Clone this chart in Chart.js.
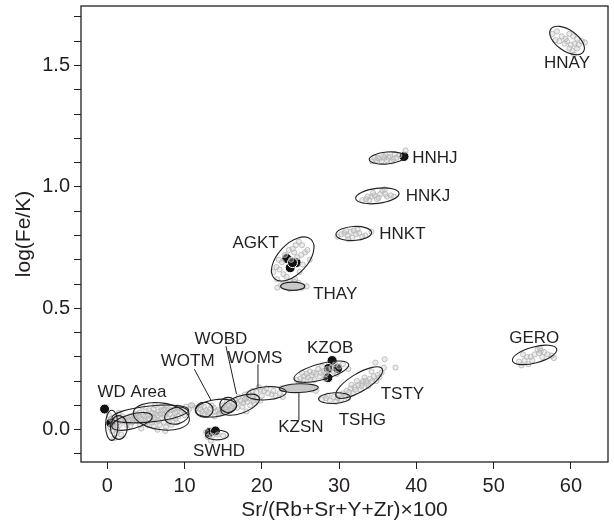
<!DOCTYPE html>
<html>
<head>
<meta charset="utf-8">
<script src="https://cdn.jsdelivr.net/npm/chart.js@4.4.1/dist/chart.umd.min.js"></script>
<style>
html, body { margin: 0; padding: 0; background: #fff; }
#wrap { width: 614px; height: 527px; }
</style>
</head>
<body>
<div id="wrap"><canvas id="c"></canvas></div>
<script>
// grey sample points per site: [Sr/(Rb+Sr+Y+Zr)x100, log(Fe/K)]
var hnay = [[57.6,1.63],[58.2,1.64],[58.8,1.62],[59.3,1.61],[59.8,1.63],[60.3,1.62],[60.8,1.61],[61.4,1.60],[61.8,1.595],[58.5,1.60],[59.5,1.60],[60.0,1.585],[60.5,1.59],[59.8,1.57],[60.2,1.56],[60.8,1.57],[59.2,1.59],[58.0,1.605],[61.0,1.585],[60.4,1.545]];
var hnhj = [[34.3,1.105],[34.8,1.11],[35.2,1.115],[35.5,1.105],[35.9,1.12],[36.2,1.11],[36.6,1.125],[37.0,1.115],[37.4,1.12],[37.8,1.13],[35.0,1.12],[36.0,1.13],[36.8,1.105],[37.2,1.135],[38.6,1.15],[34.6,1.12],[35.7,1.125],[36.4,1.12]];
var hnkj = [[33.0,0.945],[33.5,0.95],[33.9,0.945],[34.2,0.96],[34.6,0.965],[34.9,0.95],[35.3,0.97],[35.6,0.985],[35.9,0.99],[36.2,0.96],[36.7,0.965],[37.1,0.96],[34.4,0.975],[33.7,0.96],[35.1,0.955],[36.0,0.97]];
var hnkt = [[29.8,0.795],[30.3,0.805],[30.7,0.81],[31.1,0.80],[31.5,0.815],[31.9,0.82],[32.2,0.805],[32.6,0.81],[33.0,0.795],[33.4,0.80],[34.2,0.815],[31.7,0.79],[31.2,0.785],[32.4,0.825],[30.9,0.82]];
var agkt = [[21.5,0.65],[21.9,0.67],[22.3,0.66],[22.6,0.69],[22.2,0.70],[23.0,0.72],[23.5,0.74],[24.0,0.745],[24.4,0.76],[24.8,0.775],[25.2,0.76],[25.6,0.73],[25.9,0.74],[25.1,0.72],[24.6,0.71],[24.2,0.73],[23.8,0.70],[22.8,0.64],[23.2,0.63],[23.6,0.61],[24.3,0.62],[24.7,0.605],[25.3,0.68],[22.0,0.62],[26.2,0.70],[24.9,0.65]];
var thay = [[22.0,0.585],[22.5,0.595],[23.0,0.60],[24.4,0.60],[25.2,0.585],[25.8,0.59],[23.6,0.58],[24.2,0.61]];
var gero = [[53.3,0.28],[53.6,0.265],[54.0,0.285],[54.3,0.30],[54.8,0.30],[55.3,0.31],[55.7,0.33],[56.1,0.325],[56.5,0.32],[57.0,0.31],[57.5,0.305],[55.0,0.285],[54.5,0.27],[56.3,0.30],[55.9,0.315],[53.8,0.31],[57.8,0.295],[56.0,0.335]];
var kzob = [[24.5,0.205],[25.0,0.21],[25.5,0.22],[26.0,0.215],[26.5,0.225],[27.0,0.23],[27.5,0.22],[28.0,0.24],[28.5,0.25],[29.0,0.255],[29.5,0.27],[30.0,0.26],[30.5,0.27],[26.2,0.24],[25.2,0.235],[27.3,0.25],[26.8,0.205],[28.2,0.21],[29.7,0.23],[31.2,0.25],[24.8,0.19],[27.8,0.26],[25.8,0.23],[26.7,0.235],[27.6,0.235],[28.3,0.23],[25.4,0.205],[26.3,0.205],[29.3,0.24]];
var tsty = [[30.5,0.15],[31.0,0.16],[31.5,0.17],[32.0,0.175],[32.5,0.185],[33.0,0.19],[33.5,0.20],[34.0,0.21],[34.5,0.22],[35.0,0.225],[35.5,0.235],[31.8,0.15],[32.8,0.165],[33.8,0.18],[34.8,0.20],[30.8,0.14],[33.3,0.215],[34.2,0.24],[35.8,0.255],[34.7,0.276],[35.9,0.29],[37.3,0.256],[32.3,0.20],[31.3,0.155],[32.1,0.165],[32.9,0.18],[33.6,0.19],[34.3,0.20],[35.2,0.215],[33.1,0.20],[31.6,0.185]];
var tshg = [[27.8,0.125],[28.3,0.13],[28.8,0.12],[29.3,0.135],[29.8,0.13],[30.3,0.125],[30.8,0.14],[31.2,0.13],[28.5,0.14],[29.6,0.115],[30.0,0.145]];
var kzsn = [[22.5,0.17],[23.5,0.175],[26.5,0.165],[27.0,0.16]];
var woms = [[18.3,0.15],[18.8,0.16],[19.3,0.155],[19.8,0.165],[20.3,0.16],[20.8,0.15],[21.3,0.145],[21.8,0.14],[22.3,0.15],[19.0,0.14],[20.0,0.14],[20.6,0.17],[21.5,0.16],[22.7,0.135],[19.6,0.175],[18.0,0.13]];
var wobd = [[14.8,0.08],[15.3,0.09],[15.8,0.10],[16.3,0.105],[16.8,0.11],[17.3,0.12],[17.8,0.125],[18.3,0.13],[18.8,0.135],[19.3,0.13],[16.0,0.08],[16.8,0.09],[17.5,0.095],[18.5,0.10],[15.5,0.115],[17.0,0.135],[19.0,0.11],[14.5,0.065],[18.0,0.075],[19.8,0.12],[15.0,0.10],[17.8,0.145],[15.2,0.085],[16.1,0.095],[16.6,0.12],[17.6,0.11],[18.1,0.115],[18.9,0.12]];
var wotm = [[11.8,0.07],[12.3,0.075],[12.8,0.08],[13.3,0.085],[13.8,0.09],[14.3,0.08],[14.8,0.085],[12.5,0.095],[13.5,0.10],[14.5,0.065],[13.0,0.06],[12.0,0.085],[15.5,0.075],[16.0,0.09],[13.9,0.055],[11.5,0.09],[14.0,0.075],[13.1,0.072],[12.6,0.065],[14.9,0.07]];
var wdArea = [[0.2,0.06],[0.5,0.045],[0.8,0.03],[1.0,0.01],[0.6,-0.005],[1.3,0.0],[1.6,0.02],[1.9,0.035],[1.2,0.05],[2.2,0.045],[2.6,0.05],[3.0,0.055],[3.4,0.06],[3.8,0.065],[4.2,0.07],[4.6,0.06],[5.0,0.075],[5.4,0.08],[5.8,0.07],[6.2,0.065],[6.6,0.075],[7.0,0.08],[7.4,0.085],[7.8,0.09],[8.2,0.08],[8.6,0.085],[9.0,0.075],[9.4,0.09],[9.8,0.08],[10.2,0.095],[10.6,0.085],[11.0,0.10],[2.5,0.02],[3.2,0.03],[4.0,0.035],[4.8,0.04],[5.5,0.045],[6.3,0.04],[7.1,0.05],[7.9,0.045],[8.5,0.05],[9.2,0.055],[5.2,0.02],[6.0,0.015],[6.8,0.02],[7.6,0.01],[8.3,0.02],[9.0,0.03],[4.4,0.005],[6.5,0.0],[7.5,-0.005],[3.6,0.045],[1.8,-0.02],[0.9,-0.035],[1.5,0.07],[7.6,0.099],[9.1,0.092],[6.2,0.10],[4.5,0.095],[10.0,0.06],[10.8,0.10],[12.1,0.10],
  [1.1,0.04],[1.4,0.03],[2.0,0.055],[2.4,0.035],[2.8,0.04],[3.3,0.045],[3.7,0.05],[4.1,0.055],[4.4,0.045],[4.9,0.055],[5.3,0.06],[5.7,0.055],[6.1,0.05],[6.5,0.06],[6.9,0.065],[7.3,0.06],[7.7,0.07],[8.1,0.065],[8.8,0.07],[9.6,0.07],[5.0,0.03],[5.8,0.03],[6.6,0.035],[7.3,0.03],[8.0,0.03],[8.8,0.045],[4.2,0.02],[3.0,0.015],[6.0,0.085],[7.0,0.095],[0.7,0.015],[1.2,-0.015],[0.4,0.01]];
var swhd = [[13.0,-0.03],[13.6,-0.025],[14.3,-0.02],[15.0,-0.025],[13.4,-0.045],[12.8,-0.01]];

// black points (archaeological samples)
var blackPts = [[-0.35,0.085],[0.45,0.028],[13.2,-0.012],[14.0,-0.005],[23.24,0.705],[24.45,0.688],[23.67,0.667],[23.97,0.688],[29.1,0.285],[28.6,0.252],[29.8,0.252],[28.55,0.214],[38.4,1.125]];

// ellipses: [x, y, semi-axis (x units), semi-axis (y units), screen angle deg, filled]
var ellipses = [
  [59.5,1.603,2.57,0.043,35,false],
  [36.2,1.119,2.31,0.0245,-5,false],
  [34.95,0.963,2.83,0.031,-7,false],
  [31.9,0.808,2.31,0.029,-3,false],
  [24.0,0.703,3.47,0.061,-47,false],
  [24.0,0.591,1.57,0.017,0,true],
  [55.3,0.308,2.96,0.033,-15,false],
  [27.7,0.239,3.66,0.033,-15,false],
  [32.6,0.194,3.47,0.037,-31,false],
  [29.4,0.130,2.06,0.022,-3,false],
  [24.8,0.171,2.51,0.018,-2,true],
  [20.6,0.150,2.57,0.027,-4,false],
  [17.2,0.103,2.63,0.035,-20,false],
  [15.64,0.102,1.09,0.031,0,false],
  [14.07,0.089,2.7,0.035,-8,false],
  [12.56,0.082,1.13,0.031,0,false],
  [9.0,0.058,1.6,0.034,-15,false],
  [7.0,0.055,3.66,0.055,8,false],
  [5.57,0.065,5.0,0.033,-6,false],
  [3.2,0.034,2.7,0.03,-15,false],
  [0.58,0.018,0.81,0.062,0,false],
  [1.5,0.009,1.09,0.049,0,false],
  [14.2,-0.022,1.48,0.02,0,false]
];

var siteLabels = [
  ['HNAY',59.5,1.507],['HNHJ',42.4,1.119],['HNKJ',41.5,0.963],['HNKT',38.2,0.804],
  ['AGKT',19.2,0.766],['THAY',29.5,0.558],['GERO',55.25,0.378],['KZOB',28.84,0.337],
  ['TSTY',38.2,0.147],['TSHG',33.0,0.038],['KZSN',25.05,0.011],['WOMS',19.1,0.296],
  ['WOBD',14.7,0.374],['WOTM',10.4,0.280],['WD Area',3.2,0.153],['SWHD',14.46,-0.091]
];

// leader lines from label to ellipse: [x1, y1, x2, y2]
var leaders = [
  [11.27,0.249,13.45,0.120],
  [15.36,0.344,16.72,0.147],
  [19.5,0.269,19.5,0.174],
  [24.8,0.153,24.8,0.040]
];

var greyPts = [].concat(hnay, hnhj, hnkj, hnkt, agkt, thay, gero, kzob, tsty, tshg, kzsn, woms, wobd, wotm, wdArea, swhd);

var ink = '#231f20';
var fontName = "'Liberation Sans', Arial, sans-serif";

var overlay = {
  id: 'overlay',
  afterDatasetDraw: function(chart, args) {
    if (args.index !== 0) return;
    var ctx = chart.ctx, xs = chart.scales.x, ys = chart.scales.y;
    var kx = xs.getPixelForValue(1) - xs.getPixelForValue(0);
    var ky = ys.getPixelForValue(0) - ys.getPixelForValue(1);
    ctx.save();
    ctx.lineWidth = 1.1;
    ctx.strokeStyle = ink;
    ellipses.forEach(function(e) {
      ctx.beginPath();
      ctx.ellipse(xs.getPixelForValue(e[0]), ys.getPixelForValue(e[1]), e[2] * kx, e[3] * ky, e[4] * Math.PI / 180, 0, 2 * Math.PI);
      if (e[5]) { ctx.fillStyle = '#c8c8c8'; ctx.fill(); }
      ctx.stroke();
    });
    ctx.restore();
  },
  afterDraw: function(chart) {
    var ctx = chart.ctx, xs = chart.scales.x, ys = chart.scales.y, a = chart.chartArea;
    ctx.save();
    ctx.strokeStyle = ink;
    ctx.lineWidth = 1;
    leaders.forEach(function(l) {
      ctx.beginPath();
      ctx.moveTo(xs.getPixelForValue(l[0]), ys.getPixelForValue(l[1]));
      ctx.lineTo(xs.getPixelForValue(l[2]), ys.getPixelForValue(l[3]));
      ctx.stroke();
    });
    ctx.fillStyle = ink;
    ctx.font = '17px ' + fontName;
    ctx.textAlign = 'center';
    ctx.textBaseline = 'middle';
    siteLabels.forEach(function(s) {
      ctx.fillText(s[0], xs.getPixelForValue(s[1]), ys.getPixelForValue(s[2]));
    });
    ctx.lineWidth = 1.3;
    ctx.strokeRect(a.left, a.top, a.right - a.left, a.bottom - a.top);
    ctx.restore();
  }
};

new Chart(document.getElementById('c'), {
  type: 'scatter',
  data: {
    datasets: [
      {
        data: greyPts.map(function(p) { return {x: p[0], y: p[1]}; }),
        pointRadius: 2.6,
        borderWidth: 0.8,
        borderColor: '#b4b4b4',
        backgroundColor: 'rgba(200,200,200,0.35)'
      },
      {
        data: blackPts.map(function(p) { return {x: p[0], y: p[1]}; }),
        pointRadius: 5,
        borderWidth: 1,
        borderColor: '#ffffff',
        backgroundColor: '#111111'
      }
    ]
  },
  options: {
    responsive: true,
    maintainAspectRatio: false,
    animation: false,
    layout: { padding: { top: 2, right: 2, left: 0, bottom: 0 } },
    plugins: { legend: { display: false }, tooltip: { enabled: false } },
    scales: {
      x: {
        type: 'linear',
        min: -3.4, max: 64.8,
        afterFit: function(s) { s.height = 65; s.paddingLeft = 0; s.paddingRight = 0; },
        border: { display: false },
        grid: { drawOnChartArea: false, drawTicks: true, tickLength: 7, tickColor: ink, tickWidth: 1 },
        ticks: { stepSize: 10, includeBounds: false, padding: 5, color: ink, font: { family: fontName, size: 20 } },
        title: { display: true, text: 'Sr/(Rb+Sr+Y+Zr)×100', color: ink, font: { family: fontName, size: 21 }, padding: { top: 0, bottom: 4 } }
      },
      y: {
        type: 'linear',
        min: -0.133, max: 1.745,
        afterFit: function(s) { s.width = 81; s.paddingTop = 0; s.paddingBottom = 0; },
        border: { display: false },
        grid: { drawOnChartArea: false, drawTicks: true, tickLength: 7, tickColor: ink, tickWidth: 1 },
        ticks: {
          stepSize: 0.1, includeBounds: false, padding: 4, color: ink, autoSkip: false,
          font: { family: fontName, size: 20 },
          callback: function(v) { var t = Math.round(v * 10); return t % 5 === 0 ? (t / 10).toFixed(1) : ''; }
        },
        title: { display: true, text: 'log(Fe/K)', color: ink, font: { family: fontName, size: 21 }, padding: { top: 12, bottom: 0 } }
      }
    }
  },
  plugins: [overlay]
});
</script>
</body>
</html>
